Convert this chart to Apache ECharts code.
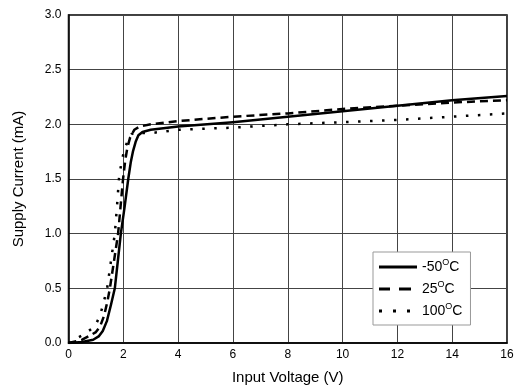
<!DOCTYPE html>
<html><head><meta charset="utf-8">
<script src="https://cdn.jsdelivr.net/npm/echarts@6/dist/echarts.min.js"></script>
<style>html,body{margin:0;padding:0;background:#fff}#c{width:514px;height:385px}</style>
</head><body><div id="c"></div>
<script>
var seriesNames = ['-50', '25', '100'];
var xTicks = [0, 2, 4, 6, 8, 10, 12, 14, 16];
var yTicks = [0.0, 0.5, 1.0, 1.5, 2.0, 2.5, 3.0];
var vM50 = [0, 0.5, 0.9, 1.1, 1.25, 1.4, 1.55, 1.69, 1.8, 1.91, 2.05, 2.18, 2.27, 2.35, 2.45, 2.55, 2.7, 3, 4, 6, 8, 10, 12, 14, 16];
var iM50 = [0, 0.01, 0.03, 0.06, 0.11, 0.2, 0.35, 0.5, 0.75, 1.0, 1.25, 1.5, 1.65, 1.75, 1.84, 1.9, 1.93, 1.95, 1.98, 2.02, 2.07, 2.12, 2.17, 2.22, 2.26];
var v25 = [0, 0.5, 0.8, 1.0, 1.15, 1.3, 1.42, 1.51, 1.66, 1.81, 1.9, 1.99, 2.07, 2.15, 2.25, 2.4, 2.6, 3, 4, 6, 8, 10, 12, 14, 16];
var i25 = [0, 0.03, 0.07, 0.1, 0.15, 0.25, 0.38, 0.5, 0.75, 1.0, 1.25, 1.5, 1.67, 1.79, 1.88, 1.95, 1.98, 2.0, 2.03, 2.07, 2.1, 2.14, 2.17, 2.2, 2.22];
var v100 = [0, 0.5, 0.96, 1.15, 1.27, 1.41, 1.55, 1.69, 1.77, 1.84, 1.93, 2.03, 2.17, 2.3, 2.45, 2.7, 3, 4, 6, 8, 10, 12, 14, 16];
var i100 = [0, 0.07, 0.15, 0.25, 0.36, 0.5, 0.75, 1.0, 1.25, 1.5, 1.65, 1.76, 1.86, 1.91, 1.93, 1.92, 1.92, 1.95, 1.97, 2.0, 2.02, 2.04, 2.07, 2.1];
var legendIcons = [
  'path://M0,0H38V3H0Z',
  'path://M0,0H11V3H0Z M20,0H32V3H20Z M38,0L38,3',
  'path://M0,0H3V3H0Z M14,0H17V3H14Z M28,0H31V3H28Z M38,0L38,3'
];

function pairs(xs, ys) { return xs.map(function (x, k) { return [x, ys[k]]; }); }
var font = 'Liberation Sans, Arial, sans-serif';
var chart = echarts.init(document.getElementById('c'), null, { renderer: 'canvas' });
var styles = [
  { width: 2.5, type: 'solid' },
  { width: 2.5, type: [8, 5] },
  { width: 2.5, type: [2.5, 9.5] }
];
var data = [pairs(vM50, iM50), pairs(v25, i25), pairs(v100, i100)];
chart.setOption({
  animation: false,
  backgroundColor: '#fff',
  grid: { left: 68.5, right: 7, top: 15, bottom: 42, show: true, borderColor: '#000', borderWidth: 1.5, backgroundColor: 'transparent', containLabel: false, outerBoundsMode: 'none' },
  xAxis: {
    type: 'value', min: xTicks[0], max: xTicks[xTicks.length - 1], interval: 2,
    name: 'Input Voltage (V)', nameLocation: 'middle', nameGap: 27,
    nameTextStyle: { fontFamily: font, fontSize: 15, color: '#000' },
    axisLine: { show: true, lineStyle: { color: '#000', width: 1.5 } },
    axisTick: { show: false },
    axisLabel: { fontFamily: font, fontSize: 12, color: '#000', margin: 6 },
    splitLine: { show: true, lineStyle: { color: '#444', width: 1 } }
  },
  yAxis: {
    type: 'value', min: yTicks[0], max: yTicks[yTicks.length - 1], interval: 0.5,
    name: 'Supply Current (mA)', nameLocation: 'middle', nameGap: 42, nameRotate: 90,
    nameTextStyle: { fontFamily: font, fontSize: 15, color: '#000' },
    axisLine: { show: true, lineStyle: { color: '#000', width: 1.5 } },
    axisTick: { show: false },
    axisLabel: { fontFamily: font, fontSize: 12, color: '#000', margin: 7, formatter: function (v) { return v.toFixed(1); } },
    splitLine: { show: true, lineStyle: { color: '#444', width: 1 } }
  },
  legend: {
    orient: 'vertical', left: 373, top: 252,
    backgroundColor: '#fff', borderColor: '#999', borderWidth: 1,
    padding: [6, 8, 5, 6], itemGap: 4, itemWidth: 38, itemHeight: 3,
    data: seriesNames.map(function (n, k) { return { name: n, icon: legendIcons[k] }; }),
    formatter: function (n) { return n + '{sup|O}C'; },
    textStyle: { fontFamily: font, fontSize: 14, color: '#000', lineHeight: 18,
      rich: { sup: { fontSize: 9, verticalAlign: 'top', lineHeight: 18, color: '#000', fontFamily: font } } }
  },
  series: seriesNames.map(function (n, k) {
    return {
      name: n, type: 'line', data: data[k], showSymbol: false, symbol: 'none',
      smooth: false,
      lineStyle: { color: '#000', width: styles[k].width, type: styles[k].type, cap: 'butt', join: 'round' },
      itemStyle: { color: '#000' }
    };
  })
});
</script></body></html>
